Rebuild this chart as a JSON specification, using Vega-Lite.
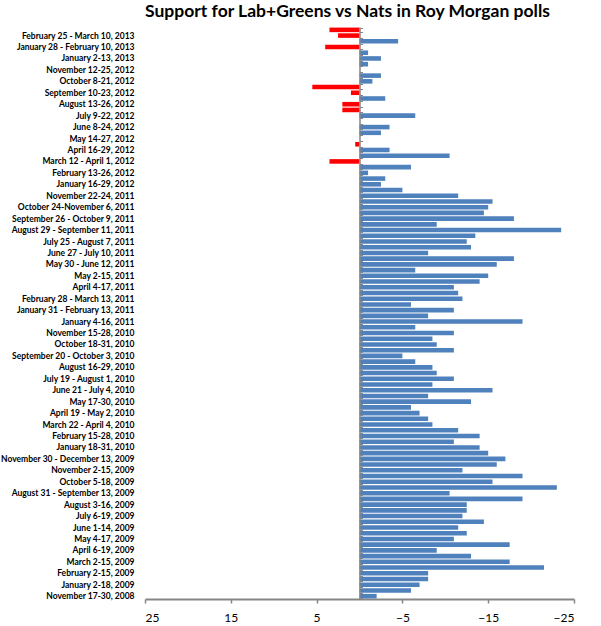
{
  "$schema": "https://vega.github.io/schema/vega-lite/v6.json",
  "autosize": "none",
  "padding": {"left": 145, "top": 27, "right": 27, "bottom": 27},
  "width": 429,
  "height": 572,
  "background": "white",
  "config": {"view": {"stroke": null}},
  "title": {
    "text": "Support for Lab+Greens vs Nats in Roy Morgan polls",
    "font": "Lato",
    "fontSize": 17.5,
    "fontWeight": "bold",
    "color": "#000000",
    "anchor": "middle",
    "frame": "group",
    "dx": -12,
    "offset": 7
  },
  "data": {
    "values": [
      {"period": "March 11-24, 2013", "value": 3.5},
      {"period": "February 25 - March 10, 2013", "value": 2.5},
      {"period": "February 11-24, 2013", "value": -4.5},
      {"period": "January 28 - February 10, 2013", "value": 4.0},
      {"period": "January 14-27, 2013", "value": -1.0},
      {"period": "January 2-13, 2013", "value": -2.5},
      {"period": "November 26 - December 9, 2012", "value": -1.0},
      {"period": "November 12-25, 2012", "value": 0},
      {"period": "October 22 - November 4, 2012", "value": -2.5},
      {"period": "October 8-21, 2012", "value": -1.5},
      {"period": "September 24 - October 7, 2012", "value": 5.5},
      {"period": "September 10-23, 2012", "value": 1.0},
      {"period": "August 27 - September 9, 2012", "value": -3.0},
      {"period": "August 13-26, 2012", "value": 2.0},
      {"period": "July 23 - August 5, 2012", "value": 2.0},
      {"period": "July 9-22, 2012", "value": -6.5},
      {"period": "June 25 - July 8, 2012", "value": 0},
      {"period": "June 8-24, 2012", "value": -3.5},
      {"period": "May 28 - June 7, 2012", "value": -2.5},
      {"period": "May 14-27, 2012", "value": 0},
      {"period": "April 30 - May 13, 2012", "value": 0.5},
      {"period": "April 16-29, 2012", "value": -3.5},
      {"period": "April 2-15, 2012", "value": -10.5},
      {"period": "March 12 - April 1, 2012", "value": 3.5},
      {"period": "February 27 - March 11, 2012", "value": -6.0},
      {"period": "February 13-26, 2012", "value": -1.0},
      {"period": "January 30 - February 12, 2012", "value": -3.0},
      {"period": "January 16-29, 2012", "value": -2.5},
      {"period": "December 5-18, 2011", "value": -5.0},
      {"period": "November 22-24, 2011", "value": -11.5},
      {"period": "November 7-20, 2011", "value": -15.5},
      {"period": "October 24-November 6, 2011", "value": -15.0},
      {"period": "October 10-23, 2011", "value": -14.5},
      {"period": "September 26 - October 9, 2011", "value": -18.0},
      {"period": "September 12-25, 2011", "value": -9.0},
      {"period": "August 29 - September 11, 2011", "value": -23.5},
      {"period": "August 8-21, 2011", "value": -13.5},
      {"period": "July 25 - August 7, 2011", "value": -12.5},
      {"period": "July 11-24, 2011", "value": -13.0},
      {"period": "June 27 - July 10, 2011", "value": -8.0},
      {"period": "June 13-26, 2011", "value": -18.0},
      {"period": "May 30 - June 12, 2011", "value": -16.0},
      {"period": "May 16-29, 2011", "value": -6.5},
      {"period": "May 2-15, 2011", "value": -15.0},
      {"period": "April 18 - May 1, 2011", "value": -14.0},
      {"period": "April 4-17, 2011", "value": -11.0},
      {"period": "March 14-27, 2011", "value": -11.5},
      {"period": "February 28 - March 13, 2011", "value": -12.0},
      {"period": "February 14-27, 2011", "value": -6.0},
      {"period": "January 31 - February 13, 2011", "value": -11.0},
      {"period": "January 17-30, 2011", "value": -8.0},
      {"period": "January 4-16, 2011", "value": -19.0},
      {"period": "November 29 - December 12, 2010", "value": -6.5},
      {"period": "November 15-28, 2010", "value": -11.0},
      {"period": "November 1-14, 2010", "value": -8.5},
      {"period": "October 18-31, 2010", "value": -9.0},
      {"period": "October 4-17, 2010", "value": -11.0},
      {"period": "September 20 - October 3, 2010", "value": -5.0},
      {"period": "August 30 - September 12, 2010", "value": -6.5},
      {"period": "August 16-29, 2010", "value": -8.5},
      {"period": "August 2-15, 2010", "value": -9.0},
      {"period": "July 19 - August 1, 2010", "value": -11.0},
      {"period": "July 5-18, 2010", "value": -8.5},
      {"period": "June 21 - July 4, 2010", "value": -15.5},
      {"period": "June 7-20, 2010", "value": -8.0},
      {"period": "May 17-30, 2010", "value": -13.0},
      {"period": "May 3-16, 2010", "value": -6.0},
      {"period": "April 19 - May 2, 2010", "value": -7.0},
      {"period": "April 5-18, 2010", "value": -8.0},
      {"period": "March 22 - April 4, 2010", "value": -8.5},
      {"period": "March 1-14, 2010", "value": -11.5},
      {"period": "February 15-28, 2010", "value": -14.0},
      {"period": "February 1-14, 2010", "value": -11.0},
      {"period": "January 18-31, 2010", "value": -14.0},
      {"period": "January 4-17, 2010", "value": -15.0},
      {"period": "November 30 - December 13, 2009", "value": -17.0},
      {"period": "November 16-29, 2009", "value": -16.0},
      {"period": "November 2-15, 2009", "value": -12.0},
      {"period": "October 19 - November 1, 2009", "value": -19.0},
      {"period": "October 5-18, 2009", "value": -15.5},
      {"period": "September 14-27, 2009", "value": -23.0},
      {"period": "August 31 - September 13, 2009", "value": -10.5},
      {"period": "August 17-30, 2009", "value": -19.0},
      {"period": "August 3-16, 2009", "value": -12.5},
      {"period": "July 20 - August 2, 2009", "value": -12.5},
      {"period": "July 6-19, 2009", "value": -12.0},
      {"period": "June 15-28, 2009", "value": -14.5},
      {"period": "June 1-14, 2009", "value": -11.5},
      {"period": "May 18-31, 2009", "value": -12.5},
      {"period": "May 4-17, 2009", "value": -11.0},
      {"period": "April 20 - May 3, 2009", "value": -17.5},
      {"period": "April 6-19, 2009", "value": -9.0},
      {"period": "March 16-29, 2009", "value": -13.0},
      {"period": "March 2-15, 2009", "value": -17.5},
      {"period": "February 16 - March 1, 2009", "value": -21.5},
      {"period": "February 2-15, 2009", "value": -8.0},
      {"period": "January 19 - February 1, 2009", "value": -8.0},
      {"period": "January 2-18, 2009", "value": -7.0},
      {"period": "December 1-14, 2008", "value": -6.0},
      {"period": "November 17-30, 2008", "value": -2.0}
    ]
  },
  "encoding": {
    "y": {
      "field": "period",
      "type": "nominal",
      "sort": null,
      "scale": {"paddingInner": 0.2, "paddingOuter": 0.1}
    },
    "x": {
      "field": "value",
      "type": "quantitative",
      "scale": {"domain": [-25, 25], "reverse": true, "nice": false, "zero": true}
    }
  },
  "layer": [
    {
      "mark": {"type": "bar"},
      "encoding": {
        "x": {
          "field": "value",
          "type": "quantitative",
          "axis": {
            "title": null,
            "orient": "bottom",
            "values": [-25, -15, -5, 5, 15, 25],
            "grid": false,
            "domain": true,
            "ticks": true,
            "domainColor": "#868686",
            "domainWidth": 2,
            "tickColor": "#868686",
            "tickWidth": 1.5,
            "tickSize": 4,
            "labelPadding": 9,
            "labelFont": "Lato",
            "labelFontSize": 12,
            "labelColor": "#000000"
          }
        },
        "y": {
          "field": "period",
          "type": "nominal",
          "sort": null,
          "axis": {
            "orient": "left",
            "title": null,
            "domain": false,
            "ticks": false,
            "tickSize": 0,
            "labelPadding": 11,
            "labelFont": "Lato",
            "labelFontSize": 8.5,
            "labelFontWeight": "bold",
            "labelColor": "#000000",
            "labelOverlap": false,
            "values": [
              "February 25 - March 10, 2013",
              "January 28 - February 10, 2013",
              "January 2-13, 2013",
              "November 12-25, 2012",
              "October 8-21, 2012",
              "September 10-23, 2012",
              "August 13-26, 2012",
              "July 9-22, 2012",
              "June 8-24, 2012",
              "May 14-27, 2012",
              "April 16-29, 2012",
              "March 12 - April 1, 2012",
              "February 13-26, 2012",
              "January 16-29, 2012",
              "November 22-24, 2011",
              "October 24-November 6, 2011",
              "September 26 - October 9, 2011",
              "August 29 - September 11, 2011",
              "July 25 - August 7, 2011",
              "June 27 - July 10, 2011",
              "May 30 - June 12, 2011",
              "May 2-15, 2011",
              "April 4-17, 2011",
              "February 28 - March 13, 2011",
              "January 31 - February 13, 2011",
              "January 4-16, 2011",
              "November 15-28, 2010",
              "October 18-31, 2010",
              "September 20 - October 3, 2010",
              "August 16-29, 2010",
              "July 19 - August 1, 2010",
              "June 21 - July 4, 2010",
              "May 17-30, 2010",
              "April 19 - May 2, 2010",
              "March 22 - April 4, 2010",
              "February 15-28, 2010",
              "January 18-31, 2010",
              "November 30 - December 13, 2009",
              "November 2-15, 2009",
              "October 5-18, 2009",
              "August 31 - September 13, 2009",
              "August 3-16, 2009",
              "July 6-19, 2009",
              "June 1-14, 2009",
              "May 4-17, 2009",
              "April 6-19, 2009",
              "March 2-15, 2009",
              "February 2-15, 2009",
              "January 2-18, 2009",
              "November 17-30, 2008"
            ]
          }
        },
        "color": {
          "condition": {"test": "datum.value > 0", "value": "#FF0000"},
          "value": "#4F81BD"
        }
      }
    },
    {
      "mark": {"type": "bar", "opacity": 0},
      "encoding": {
        "x": {"field": "value", "type": "quantitative", "axis": null},
        "y": {
          "field": "period",
          "type": "nominal",
          "sort": null,
          "axis": {
            "orient": "right",
            "offset": -214.5,
            "title": null,
            "labels": false,
            "grid": false,
            "tickBand": "extent",
            "tickSize": 3,
            "tickColor": "#868686",
            "domainColor": "#868686",
            "domainWidth": 1.5,
            "zindex": 2
          }
        }
      }
    }
  ],
  "resolve": {"axis": {"y": "independent", "x": "independent"}}
}
